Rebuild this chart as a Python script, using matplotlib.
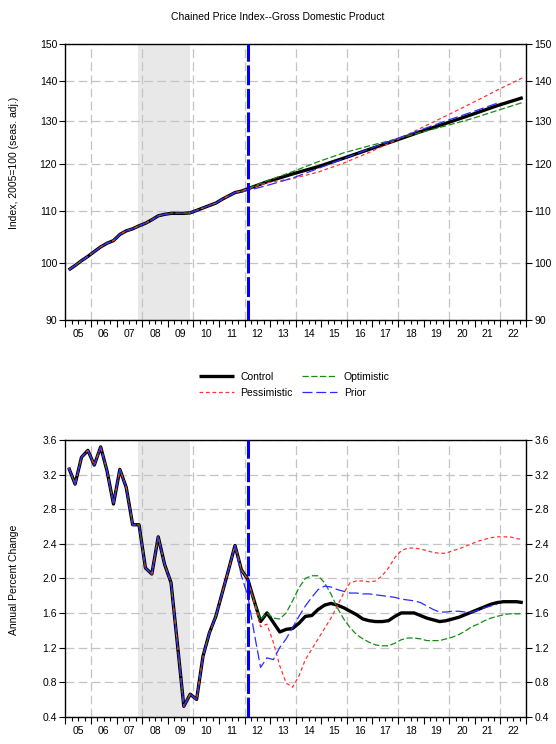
import numpy as np
import matplotlib.pyplot as plt
from matplotlib.lines import Line2D

plt.rcParams['font.family'] = ['Liberation Sans', 'DejaVu Sans']

# ---- data ----
# quarterly history 2005Q1 - 2011Q4
hist_index = [98.7, 99.5, 100.4, 101.2,
              102.1, 103.0, 103.7, 104.2,
              105.4, 106.1, 106.5, 107.1,
              107.6, 108.3, 109.1, 109.4,
              109.6, 109.6, 109.6, 109.7,
              110.2, 110.7, 111.2, 111.7,
              112.5, 113.2, 113.9, 114.2]
hist_change = [3.28, 3.09, 3.40, 3.48,
               3.31, 3.52, 3.24, 2.86,
               3.26, 3.05, 2.62, 2.62,
               2.12, 2.05, 2.48, 2.16,
               1.95, 1.24, 0.52, 0.66,
               0.60, 1.10, 1.37, 1.56,
               1.83, 2.10, 2.38, 2.10]

# index projections, Q4 values 2012-2022
proj_years = [2012, 2013, 2014, 2015, 2016, 2017, 2018, 2019, 2020, 2021, 2022]
control_index = [116.2, 117.9, 119.5, 121.4, 123.4, 125.4, 127.5, 129.5, 131.6, 133.8, 135.8]
optimistic_index = [116.4, 118.4, 120.6, 122.6, 124.2, 125.7, 127.3, 128.9, 130.6, 132.6, 134.6]
pessimistic_index = [116.0, 116.9, 118.3, 120.3, 122.7, 125.4, 128.3, 131.3, 134.4, 137.7, 140.9]
prior_index_start = 114.0  # 2011Q4
prior_index = [115.4, 117.0, 119.1, 121.3, 123.5, 125.7, 127.9, 130.1, 132.2, 134.4]

# annual percent change projections, quarterly 2012Q1 - 2022Q4
control_change = [1.99, 1.74, 1.50, 1.60, 1.49, 1.38, 1.41, 1.42,
                  1.48, 1.56, 1.57, 1.64, 1.69, 1.71, 1.69, 1.66,
                  1.62, 1.58, 1.53, 1.51, 1.50, 1.50, 1.51, 1.56,
                  1.60, 1.60, 1.60, 1.57, 1.54, 1.52, 1.50, 1.51,
                  1.53, 1.55, 1.58, 1.61, 1.64, 1.67, 1.70, 1.72,
                  1.73, 1.73, 1.73, 1.72]
optimistic_change = [1.99, 1.74, 1.52, 1.60, 1.54, 1.53, 1.60, 1.74,
                     1.89, 2.00, 2.03, 2.03, 1.95, 1.82, 1.66, 1.53,
                     1.43, 1.35, 1.30, 1.26, 1.23, 1.22, 1.22, 1.25,
                     1.29, 1.31, 1.31, 1.30, 1.28, 1.28, 1.28, 1.30,
                     1.32, 1.35, 1.39, 1.44, 1.47, 1.51, 1.54, 1.56,
                     1.58, 1.59, 1.59, 1.59]
pessimistic_change = [1.99, 1.72, 1.44, 1.47, 1.26, 0.99, 0.79, 0.74,
                      0.87, 1.06, 1.18, 1.30, 1.42, 1.54, 1.68, 1.83,
                      1.95, 1.97, 1.97, 1.96, 1.97, 2.03, 2.12, 2.24,
                      2.32, 2.35, 2.35, 2.34, 2.32, 2.30, 2.29, 2.29,
                      2.32, 2.34, 2.37, 2.40, 2.43, 2.45, 2.47, 2.48,
                      2.48, 2.48, 2.46, 2.45]
# prior forecast, 2011Q4 - 2021Q4
prior_change = [2.03,
                1.80, 1.37, 0.97, 1.08, 1.06, 1.20, 1.30, 1.43,
                1.56, 1.68, 1.78, 1.87, 1.91, 1.90, 1.87, 1.85,
                1.83, 1.83, 1.82, 1.82, 1.81, 1.80, 1.79, 1.78,
                1.76, 1.75, 1.74, 1.72, 1.68, 1.64, 1.61, 1.61,
                1.62, 1.62, 1.61, 1.61, 1.63, 1.66, 1.68, 1.70]

year_labels = ['05', '06', '07', '08', '09', '10', '11', '12', '13',
               '14', '15', '16', '17', '18', '19', '20', '21', '22']

# ---- positions (quarter midpoints) ----
def qpos(start_year, n, start_q=1):
    idx = np.arange(n) + (start_q - 1)
    return start_year + (idx + 0.5) / 4.0

t_hist = qpos(2005, len(hist_index))
t_proj_q = qpos(2012, len(control_change))
t_q4 = np.array(proj_years) + 0.875
last_hist_t = t_hist[-1]

ctrl_t = np.concatenate([t_hist, t_q4])
ctrl_idx = hist_index + control_index
opt_idx = hist_index + optimistic_index
pes_idx = hist_index + pessimistic_index
pri_t = np.concatenate([t_hist[:-1], [last_hist_t], t_q4[:len(prior_index)]])
pri_idx = hist_index[:-1] + [prior_index_start] + prior_index

chg_t = np.concatenate([t_hist, t_proj_q])
ctrl_chg = hist_change + control_change
opt_chg = hist_change + optimistic_change
pes_chg = hist_change + pessimistic_change
pri_chg_t = qpos(2005, len(hist_change) - 1 + len(prior_change))
pri_chg = hist_change[:-1] + prior_change

# ---- styles ----
C_BLACK = dict(color='black', lw=2.4, solid_capstyle='butt')
C_OPT = dict(color='#168c16', lw=0.9, linestyle=(0, (5, 2)))
C_PES = dict(color='#ff3333', lw=0.9, linestyle=(0, (3, 2.2)))
C_PRI = dict(color='#2b2bff', lw=0.9, linestyle=(0, (8, 3)))
GRID = dict(color='#c4c4c4', lw=0.9, linestyle=(0, (7, 3.5)), zorder=1)
FS = 7.5

fig = plt.figure(figsize=(5.56, 7.44), dpi=100)
ax1 = fig.add_axes([0.1178, 0.5703, 0.8282, 0.3706])
ax2 = fig.add_axes([0.1178, 0.0367, 0.8282, 0.3719])


def style_axis(ax, yticks, ylabels):
    ax.set_xlim(2005, 2023)
    ax.axvspan(2007.85, 2009.88, color='#e8e8e8', lw=0, zorder=0)
    for yv in yticks:
        ax.axhline(yv, **GRID)
    for xv in range(2006, 2023, 2):
        ax.axvline(xv, **GRID)
    ax.set_yticks(yticks)
    ax.set_yticklabels(ylabels)
    ax.yaxis.set_minor_locator(plt.NullLocator())
    ax.set_ylim(yticks[0], yticks[-1])
    ax.tick_params(axis='y', which='both', direction='out', length=4, width=0.8,
                   left=True, right=True, labelleft=True, labelright=True,
                   labelsize=FS, pad=2)
    ax.set_xticks(range(2005, 2024))
    ax.set_xticklabels([])
    quarters = np.arange(2005, 2023, 0.25)
    minor_labels = []
    for q in quarters:
        if abs(q - np.floor(q) - 0.5) < 1e-6:
            minor_labels.append(year_labels[int(np.floor(q)) - 2005])
        else:
            minor_labels.append('')
    ax.set_xticks(quarters, labels=minor_labels, minor=True)
    ax.tick_params(axis='x', which='major', direction='out', length=5, width=0.8)
    ax.tick_params(axis='x', which='minor', direction='out', length=3, width=0.8,
                   labelsize=FS, pad=4)
    for s in ax.spines.values():
        s.set_linewidth(1.0)
    ax.axvline(2012.125, color='#0000ff', lw=2.2, linestyle=(0, (6.5, 1.2)), zorder=6)


# top panel
ax1.set_yscale('log')
style_axis(ax1, [90, 100, 110, 120, 130, 140, 150],
           ['90', '100', '110', '120', '130', '140', '150'])
ax1.plot(ctrl_t, ctrl_idx, zorder=3, **C_BLACK)
ax1.plot(ctrl_t, opt_idx, zorder=4, **C_OPT)
ax1.plot(ctrl_t, pes_idx, zorder=4, **C_PES)
ax1.plot(pri_t, pri_idx, zorder=5, **C_PRI)

# bottom panel
style_axis(ax2, [0.4, 0.8, 1.2, 1.6, 2.0, 2.4, 2.8, 3.2, 3.6],
           ['0.4', '0.8', '1.2', '1.6', '2.0', '2.4', '2.8', '3.2', '3.6'])
ax2.plot(chg_t, ctrl_chg, zorder=3, **C_BLACK)
ax2.plot(chg_t, opt_chg, zorder=4, **C_OPT)
ax2.plot(chg_t, pes_chg, zorder=4, **C_PES)
ax2.plot(pri_chg_t, pri_chg, zorder=5, **C_PRI)

fig.text(0.499, 0.977, 'Chained Price Index--Gross Domestic Product',
         ha='center', va='center', fontsize=FS)
fig.text(14 / 556, 1 - 163 / 744, 'Index, 2005=100 (seas. adj.)', rotation=90,
         ha='center', va='center', fontsize=FS)
fig.text(14 / 556, 1 - 580 / 744, 'Annual Percent Change', rotation=90,
         ha='center', va='center', fontsize=FS)

handles = [Line2D([], [], **C_BLACK), Line2D([], [], **C_PES),
           Line2D([], [], **C_OPT), Line2D([], [], **C_PRI)]
labels = ['Control', 'Pessimistic', 'Optimistic', 'Prior']
fig.legend(handles, labels, loc='center', bbox_to_anchor=(0.529, 0.483), ncol=2,
           frameon=False, fontsize=FS, handlelength=3.4, handletextpad=0.6,
           columnspacing=0.9, labelspacing=0.6)

fig.savefig('out.png', dpi=100)
